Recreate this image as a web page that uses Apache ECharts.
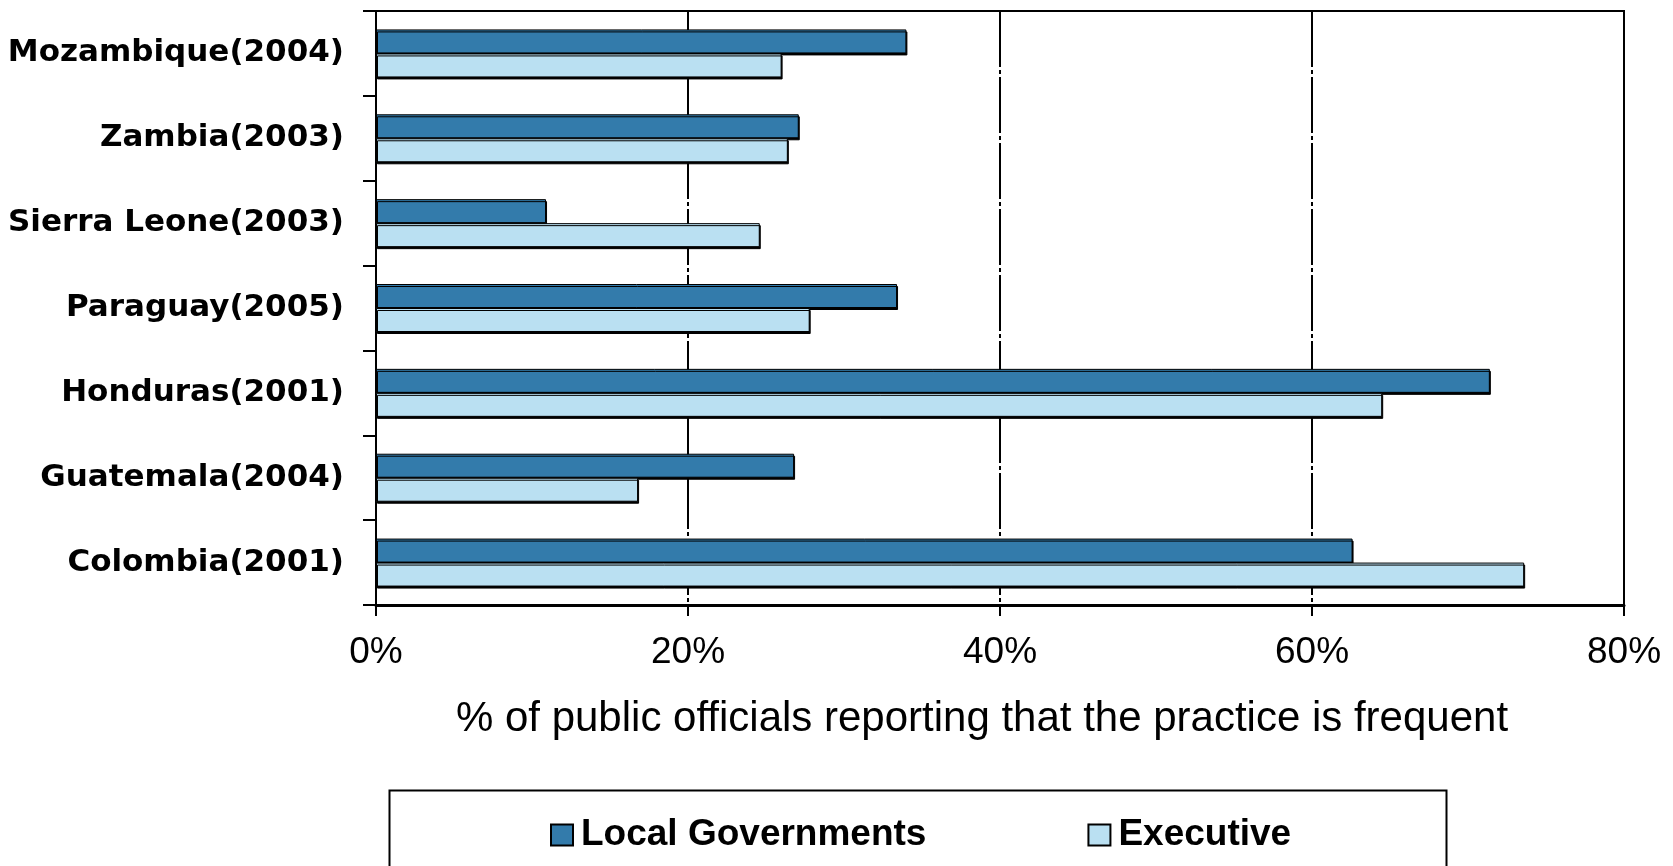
<!DOCTYPE html>
<html>
<head>
<meta charset="utf-8">
<script src="https://cdn.jsdelivr.net/npm/echarts@6/dist/echarts.min.js"></script>
<style>html,body{margin:0;padding:0;background:#fff;}#c{width:1673px;height:866px;}</style>
</head>
<body>
<div id="c"></div>
<script>
var categories = ["Mozambique(2004)", "Zambia(2003)", "Sierra Leone(2003)", "Paraguay(2005)", "Honduras(2001)", "Guatemala(2004)", "Colombia(2001)"];
var localGov = [34.0, 27.1, 10.9, 33.4, 71.4, 26.8, 62.6];
var executive = [26.0, 26.4, 24.6, 27.8, 64.5, 16.8, 73.6];
var seriesNames = ["Local Governments", "Executive"];
var xTicks = [0, 20, 40, 60, 80];
var axisTitle = "% of public officials reporting that the practice is frequent";

var chart = echarts.init(document.getElementById('c'), null, {renderer: 'canvas'});
var barShadow = {shadowColor: '#000', shadowBlur: 0, shadowOffsetX: 1, shadowOffsetY: 2};
chart.setOption({
  animation: false,
  backgroundColor: '#fff',
  grid: {left: 376, right: 49, top: 11, bottom: 261, show: true, borderColor: '#000', borderWidth: 2},
  xAxis: {
    type: 'value', min: xTicks[0], max: xTicks[xTicks.length - 1], interval: xTicks[1] - xTicks[0],
    axisLine: {show: true, lineStyle: {color: '#000', width: 3}},
    axisTick: {show: true, length: 11, lineStyle: {color: '#000', width: 2}},
    axisLabel: {formatter: '{value}%', color: '#000', fontFamily: 'Liberation Sans', fontSize: 37, margin: 29},
    splitLine: {show: true, lineStyle: {color: '#000', width: 2, type: [56, 3, 4, 3]}},
    name: axisTitle, nameLocation: 'middle', nameGap: 93,
    nameTextStyle: {color: '#000', fontFamily: 'Liberation Sans', fontSize: 42, padding: [0, 36, 0, 0]}
  },
  yAxis: {
    type: 'category', data: categories, inverse: true,
    axisLine: {show: true, lineStyle: {color: '#000', width: 2}},
    axisTick: {show: true, inside: false, length: 13, lineStyle: {color: '#000', width: 2}},
    axisLabel: {color: '#000', fontFamily: 'DejaVu Sans', fontWeight: 'bold', fontSize: 31, margin: 32},
    splitLine: {show: false}
  },
  legend: {
    data: seriesNames, left: 545, top: 810, icon: 'rect', itemWidth: 22, itemHeight: 21, itemGap: 161,
    textStyle: {color: '#000', fontFamily: 'Liberation Sans', fontWeight: 'bold', fontSize: 37, lineHeight: 40, padding: [0, 0, 0, 3]}
  },
  graphic: [{
    type: 'rect', left: 387, top: 788, shape: {width: 1057, height: 100},
    style: {fill: 'none', stroke: '#000', lineWidth: 2}, silent: true
  }],
  series: [
    {name: seriesNames[0], type: 'bar', data: localGov, barWidth: 24, barGap: '0%',
     itemStyle: Object.assign({color: '#337BAB', borderColor: '#000', borderWidth: 1}, barShadow)},
    {name: seriesNames[1], type: 'bar', data: executive, barWidth: 24, barGap: '0%',
     itemStyle: Object.assign({color: '#BAE0F2', borderColor: '#000', borderWidth: 1}, barShadow)}
  ]
});
</script>
</body>
</html>
